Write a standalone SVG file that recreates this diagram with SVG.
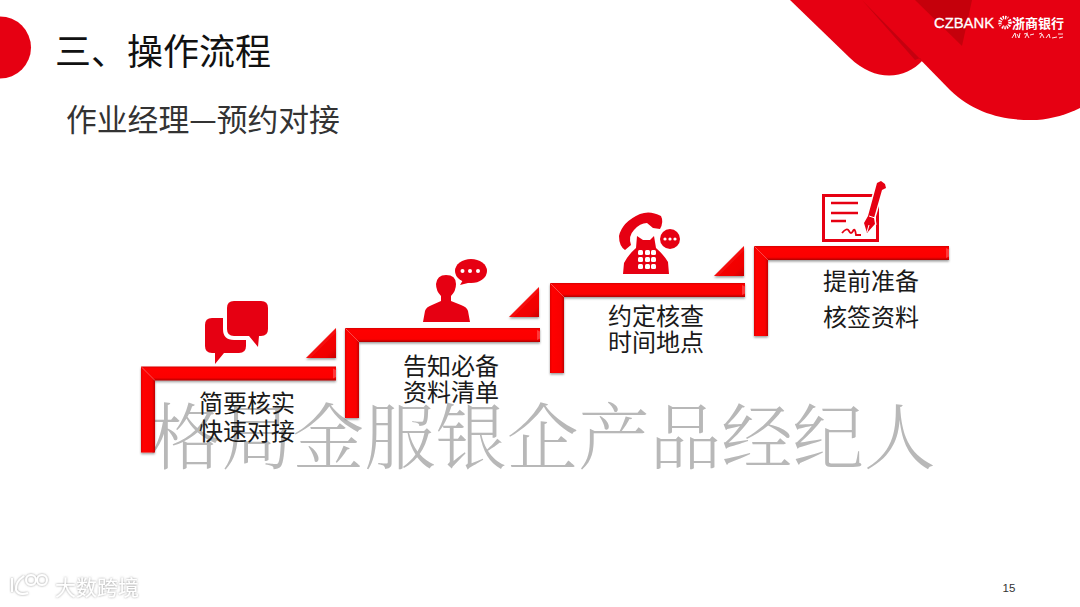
<svg xmlns="http://www.w3.org/2000/svg" width="1080" height="607" viewBox="0 0 1080 607">
<defs>
<linearGradient id="h" x1="0" y1="0" x2="0" y2="1"><stop offset="0" stop-color="#d80000"/><stop offset=".15" stop-color="#ff0000"/><stop offset=".8" stop-color="#fb0000"/><stop offset="1" stop-color="#b00000"/></linearGradient>
<linearGradient id="v" x1="0" y1="0" x2="1" y2="0"><stop offset="0" stop-color="#e00000"/><stop offset=".15" stop-color="#ff0000"/><stop offset=".8" stop-color="#f80000"/><stop offset="1" stop-color="#c00000"/></linearGradient>
<linearGradient id="t" x1="0" y1="0" x2="1" y2="1"><stop offset="0" stop-color="#ff1818"/><stop offset=".8" stop-color="#f00000"/><stop offset="1" stop-color="#c80000"/></linearGradient>
<filter id="sh" x="-10%" y="-10%" width="120%" height="125%"><feDropShadow dx="0" dy="1.5" stdDeviation="1.2" flood-color="#000" flood-opacity=".4"/></filter>
<filter id="glow" x="-10%" y="-30%" width="120%" height="160%"><feDropShadow dx="0" dy="0" stdDeviation="1.3" flood-color="#777" flood-opacity=".8"/></filter>
<g id="bar">
<path d="M14 14H195V0H0Z" fill="url(#h)"/>
<path d="M192 2L195 3.500V10.500L192 12Z" fill="#ff5050" opacity=".7"/>
<path d="M1 1L14 14" stroke="#ff6060" stroke-width=".8" opacity=".7"/>
</g>
<path id="tri" d="M0 30L30 0V30Z" fill="url(#t)" filter="url(#sh)"/>
</defs>
<style>
.cjk{font-family:"Noto Sans CJK SC","Noto Sans",sans-serif}
.s{font-size:24px;fill:#1a1a1a;text-anchor:middle}
.ic{fill:#e60012}
.wt{stroke:#fff;fill:none}
</style>
<rect width="1080" height="607" fill="#fff"/>

<g id="header">
<path d="M790 0L850 58C875 82 905 80 923 60L960 0Z" class="ic"/>
<path d="M862 0L950 90C975 114 1005 121 1037 120C1052 119 1068 114 1080 108V0Z" class="ic"/>
<path d="M862 0L923 62L920 58L915 60Z" fill="#c5000f"/>
<path d="M915 0L962 46L972 0Z" fill="#c5000b"/>
<circle cx="0" cy="47.500" r="31" class="ic"/>
<text x="934" y="28" font-family="'Liberation Sans',sans-serif" font-size="14.800" fill="#fff" stroke="#fff" stroke-width=".3">CZBANK</text>
<circle cx="1005" cy="22.500" r="5" class="wt" stroke-width="3.500" stroke-dasharray="1.400 .9"/>
<path d="M1000 27L1010 17" stroke="#e60012" stroke-width="1.400"/>
<text x="1012" y="28" class="cjk" font-size="13" font-weight="700" fill="#fff">浙商银行</text>
<path class="wt" stroke-width=".9" d="M1012 38L1015 33L1016 38M1017 34L1019 38L1020 33M1024 34L1028 33M1025 38L1027 34L1029 38M1030 35L1034 34M1039 34L1042 33M1040 38L1042 34L1044 38M1046 38L1049 34L1050 38M1052 38L1057 37M1058 34L1063 34M1059 38L1063 37"/>
</g>

<text id="title" x="55" y="65" class="cjk" font-size="36" fill="#111">三、操作流程</text>
<text id="subtitle" x="66" y="131" class="cjk" font-size="30.800" fill="#333">作业经理—预约对接</text>

<g id="connectors"></g>

<text id="watermark" x="150" y="463" font-family="'Noto Serif CJK SC','Noto Sans CJK SC',serif" font-weight="300" font-size="71.400" fill="#b8b8b8">格局金服银企产品经纪人</text>

<g id="step1">
<g filter="url(#sh)" transform="translate(141 366.500)"><path d="M0 0L14 14V86H0Z" fill="url(#v)"/><use href="#bar"/></g>
<use href="#tri" x="306" y="328"/>
<path class="ic" d="M212 318H239Q246 318 246 325V346Q246 353 239 353H224L215 364V353H212Q205 353 205 346V325Q205 318 212 318Z"/>
<path class="ic" d="M234 301H261Q268 301 268 308V329Q268 336 261 336H259L258 347L249 336H234Q227 336 227 329V308Q227 301 234 301Z" stroke="#fff" stroke-width="8" paint-order="stroke"/>
<text class="cjk s" x="247" y="412">简要核实</text>
<text class="cjk s" x="247" y="440">快速对接</text>
</g>

<g id="step2">
<g filter="url(#sh)" transform="translate(345 328)"><path d="M0 0L14 14V90H0Z" fill="url(#v)"/><use href="#bar"/></g>
<use href="#tri" x="509" y="287"/>
<path class="ic" d="M423 322L425 311Q426 307 432 305L441 301V296Q436 291 436 284Q437 275 446 275Q456 275 456 284Q456 291 451 296V301L461 305Q467 307 468 311L470 322Z"/>
<ellipse class="ic" cx="471" cy="271" rx="16" ry="12"/>
<path class="ic" d="M463 280L460 285L472 282Z"/>
<g fill="#fff"><circle cx="462.500" cy="271" r="2"/><circle cx="470" cy="271" r="2"/><circle cx="478" cy="271" r="2"/></g>
<text class="cjk s" x="451" y="375">告知必备</text>
<text class="cjk s" x="451" y="401">资料清单</text>
</g>

<g id="step3">
<g filter="url(#sh)" transform="translate(550 283)"><path d="M0 0L14 14V90H0Z" fill="url(#v)"/><use href="#bar"/></g>
<use href="#tri" x="714" y="246"/>
<path class="ic" d="M625 250L631 245Q628 236 634 230Q640 223 647 223L653 228L660 229Q664 222 661 216Q650 210 640 214Q622 222 619 236Q619 246 625 250Z"/>
<path class="ic" d="M623 274L624 263Q628 255 636 248L637 236L643 240H650L654 236L656 248Q664 255 668 262L669 274Z"/>
<g fill="#fff"><rect x="638" y="250" width="5" height="5" rx="1.500"/><rect x="645" y="250" width="5" height="5" rx="1.500"/><rect x="651" y="250" width="5" height="5" rx="1.500"/><rect x="638" y="257" width="5" height="5" rx="1.500"/><rect x="645" y="257" width="5" height="5" rx="1.500"/><rect x="651" y="257" width="5" height="5" rx="1.500"/><rect x="638" y="264" width="5" height="5" rx="1.500"/><rect x="645" y="264" width="5" height="5" rx="1.500"/><rect x="651" y="264" width="5" height="5" rx="1.500"/></g>
<circle class="ic" cx="670" cy="239" r="10" stroke="#fff" stroke-width="4" paint-order="stroke"/>
<g fill="#fff"><circle cx="665" cy="239" r="1.600"/><circle cx="670" cy="239" r="1.600"/><circle cx="675" cy="239" r="1.600"/></g>
<text class="cjk s" x="656" y="325">约定核查</text>
<text class="cjk s" x="656" y="351">时间地点</text>
</g>

<g id="step4">
<g filter="url(#sh)" transform="translate(754 246)"><path d="M0 0L14 14V90H0Z" fill="url(#v)"/><use href="#bar"/></g>
<path d="M823.500 195.500H877.500V240.500H823.500Z" fill="none" stroke="#e60012" stroke-width="3"/>
<path d="M831 203H858M831 213H858M831 221H846" stroke="#e60012" stroke-width="2.500" fill="none"/>
<path d="M842 233Q847 227 849 231T853 231T856 235H861" stroke="#e60012" stroke-width="1.800" fill="none"/>
<path class="ic" d="M877 183L881 181L885 184L886 188L882 190L874 218L875 224L867 233L864 223L868 216Z" stroke="#fff" stroke-width="3" paint-order="stroke"/>
<path d="M869 216L875 218M867 232L869 225" stroke="#fff" stroke-width="1"/>
<text class="cjk s" x="871" y="290">提前准备</text>
<text class="cjk s" x="871" y="326">核签资料</text>
</g>

<g id="footer">
<text x="1009" y="592" font-family="'Liberation Sans',sans-serif" font-size="11.500" fill="#333" text-anchor="middle">15</text>
<g filter="url(#glow)" fill="none" stroke="#fff" stroke-width="2">
<path d="M12 592V578M24 576Q15 582 16 590Q19 596 28 593"/>
<circle cx="31" cy="580" r="5"/><circle cx="42" cy="580" r="5"/>
</g>
<text x="55" y="595" class="cjk" font-size="21" fill="#fff" filter="url(#glow)">大数跨境</text>
</g>
</svg>
